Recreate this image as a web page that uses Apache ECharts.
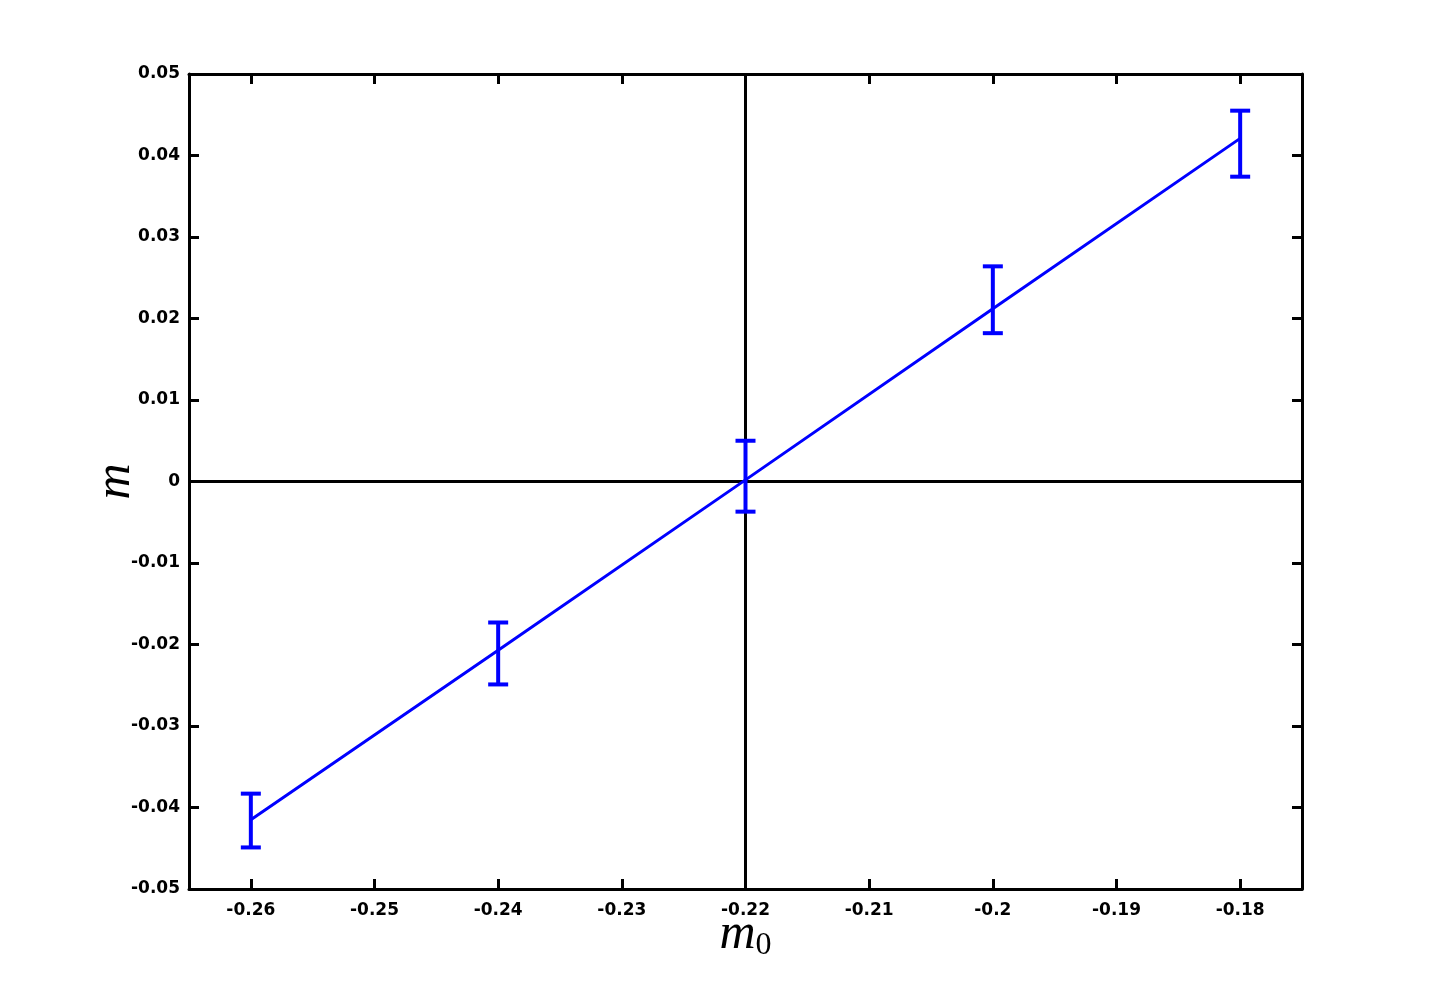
<!DOCTYPE html>
<html>
<head>
<meta charset="utf-8">
<script src="https://cdn.jsdelivr.net/npm/echarts@6/dist/echarts.min.js"></script>
<style>
  html, body { margin: 0; padding: 0; background: #fff; }
</style>
</head>
<body>
<div id="main" style="width: 1440px; height: 1000px"></div>
<script>
// data
const m0 = [-0.26, -0.24, -0.22, -0.20, -0.18]
const mVal = [-0.0415, -0.0207, 0.0002, 0.0212, 0.0421]
const errLow = [-0.0449, -0.0249, -0.0037, 0.0182, 0.0374]
const errHigh = [-0.0383, -0.0173, 0.0050, 0.0264, 0.0455]
const xTicks = [-0.26, -0.25, -0.24, -0.23, -0.22, -0.21, -0.2, -0.19, -0.18]
const crossX = -0.2203
const crossY = 0

const fmt = v => String(parseFloat(Number(v).toFixed(4)))

const tickFont = { fontFamily: 'DejaVu Sans', fontWeight: 'bold', fontSize: 17, color: '#000' }
const axisLine = { show: true, onZero: false, lineStyle: { color: '#000', width: 3 } }
const axisTick = { show: true, inside: true, length: 10, lineStyle: { color: '#000', width: 3 } }

const nameRich = {
  i: { fontFamily: 'Liberation Serif', fontStyle: 'italic', fontSize: 50, color: '#000' },
  s: { fontFamily: 'Liberation Serif', fontSize: 32, color: '#000', padding: [22, 0, 0, 0] }
}

const chart = echarts.init(document.getElementById('main'))

chart.setOption({
  animation: false,
  backgroundColor: '#fff',
  grid: { left: 189, right: 138, top: 74, bottom: 111 },
  xAxis: [
    {
      type: 'value', min: -0.265, max: -0.175, position: 'bottom',
      axisLine: axisLine,
      axisTick: Object.assign({ customValues: xTicks }, axisTick),
      axisLabel: Object.assign({ customValues: xTicks, margin: 13, formatter: fmt }, tickFont),
      splitLine: { show: false },
      name: '{i|m}{s|0}', nameLocation: 'middle', nameGap: 19, nameMoveOverlap: false,
      nameTextStyle: { rich: nameRich }
    },
    {
      type: 'value', min: -0.265, max: -0.175, position: 'top',
      axisLine: axisLine,
      axisTick: Object.assign({ customValues: xTicks }, axisTick),
      axisLabel: { show: false },
      splitLine: { show: false }
    }
  ],
  yAxis: [
    {
      type: 'value', min: -0.05, max: 0.05, interval: 0.01, position: 'left',
      axisLine: axisLine, axisTick: axisTick,
      axisLabel: Object.assign({ margin: 9, formatter: fmt }, tickFont),
      splitLine: { show: false },
      name: '{i|m}', nameLocation: 'middle', nameGap: 48, nameMoveOverlap: false,
      nameTextStyle: { rich: nameRich }
    },
    {
      type: 'value', min: -0.05, max: 0.05, interval: 0.01, position: 'right',
      axisLine: axisLine, axisTick: axisTick,
      axisLabel: { show: false },
      splitLine: { show: false }
    }
  ],
  series: [
    {
      type: 'line',
      data: m0.map((x, i) => [x, mVal[i]]),
      showSymbol: false,
      lineStyle: { color: '#0000ff', width: 3 },
      z: 3,
      markLine: {
        silent: true,
        symbol: 'none',
        label: { show: false },
        lineStyle: { color: '#000', width: 3, type: 'solid' },
        data: [{ xAxis: crossX }, { yAxis: crossY }],
        z: 2
      }
    },
    {
      type: 'custom',
      data: m0.map((x, i) => [x, errLow[i], errHigh[i]]),
      z: 4,
      renderItem: function (params, api) {
        const lo = api.coord([api.value(0), api.value(1)])
        const hi = api.coord([api.value(0), api.value(2)])
        const hw = 10
        const style = { stroke: '#0000ff', lineWidth: 4 }
        return {
          type: 'group',
          children: [
            { type: 'line', shape: { x1: lo[0], y1: lo[1], x2: hi[0], y2: hi[1] }, style: style },
            { type: 'line', shape: { x1: lo[0] - hw, y1: lo[1], x2: lo[0] + hw, y2: lo[1] }, style: style },
            { type: 'line', shape: { x1: hi[0] - hw, y1: hi[1], x2: hi[0] + hw, y2: hi[1] }, style: style }
          ]
        }
      }
    }
  ]
})
</script>
</body>
</html>
